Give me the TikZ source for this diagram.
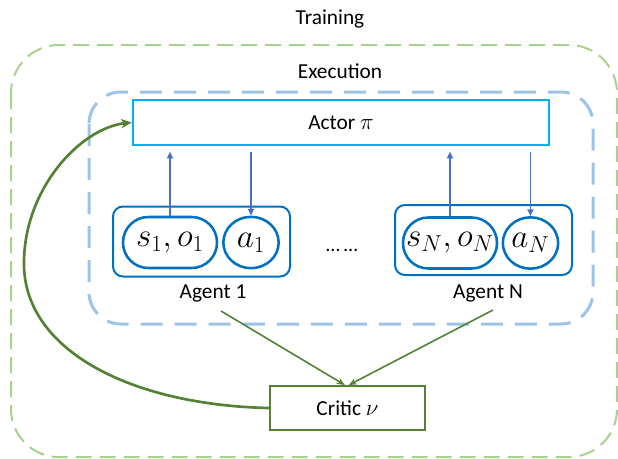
\documentclass[tikz,border=0pt]{standalone}
\usepackage{fontspec}
\setmainfont{Carlito}
\usetikzlibrary{arrows.meta,calc,shapes.geometric}
\definecolor{trainGreen}{HTML}{A9D18E}
\definecolor{execBlue}{HTML}{9DC3E6}
\definecolor{actorCyan}{HTML}{00B0F0}
\definecolor{agentBlue}{HTML}{0070C0}
\definecolor{arrowBlue}{HTML}{4472C4}
\definecolor{criticGreen}{HTML}{548235}
\tikzset{
  lbl/.style={font=\fontsize{16}{19}\selectfont, inner sep=0pt},
  trainbox/.style={draw=trainGreen, line width=1.5pt, rounded corners=36pt,
    dash pattern=on 12pt off 6pt},
  execbox/.style={draw=execBlue, line width=2.25pt, rounded corners=24pt,
    dash pattern=on 16.5pt off 9pt},
  actorbox/.style={draw=actorCyan, line width=1.9pt, fill=white,
    minimum width=312pt, minimum height=33.75pt, inner sep=0pt,
    font=\fontsize{16}{19}\selectfont},
  agentbox/.style={draw=agentBlue, line width=1.5pt, rounded corners=7.5pt,
    minimum width=132.75pt, minimum height=52.5pt, inner sep=0pt},
  statebox/.style={draw=agentBlue, line width=1.9pt, rounded corners=19pt,
    minimum width=70.5pt, minimum height=38.25pt, inner sep=0pt,
    font=\fontsize{23}{27}\selectfont},
  actbox/.style={draw=agentBlue, line width=1.9pt, ellipse,
    minimum width=41.5pt, minimum height=38.5pt, inner sep=0pt,
    font=\fontsize{23}{27}\selectfont},
  criticbox/.style={draw=criticGreen, line width=1.5pt, fill=white,
    minimum width=116.25pt, minimum height=33pt, inner sep=0pt,
    font=\fontsize{16}{19}\selectfont},
  bluearrow/.style={draw=arrowBlue, line width=1.2pt,
    -{Triangle[length=5pt,width=4.5pt]}},
  greenarrow/.style={draw=criticGreen, line width=1.2pt,
    -{Stealth[length=6pt,width=5pt]}},
  critcurve/.style={draw=criticGreen, line width=2pt,
    -{Stealth[length=8pt,width=7pt]}},
}
\begin{document}
\begin{tikzpicture}[x=0.75pt,y=-0.75pt]
\useasboundingbox (0,0) rectangle (618,458);

% dashed regions: training (outer) and execution (inner)
\draw[trainbox] (11,45) rectangle (617,457);
\draw[execbox] (89,92) rectangle (593,324);
\node[lbl] (train) at (330,19) {Training};
\node[lbl] (exec) at (340,71) {Execution};

% shared actor
\node[actorbox] (actor) at (341,122.5) {Actor $\pi$};

% agent 1
\node[agentbox] (ag1) at (201.5,241.5) {};
\node[statebox] (so1) at (170,242.5) {$s_1,o_1$};
\node[actbox] (a1) at (251,242.5) {$a_1$};
\node[lbl] (lab1) at (213,293) {Agent 1};

% agent N
\node[agentbox] (agN) at (483.5,240) {};
\node[statebox] (soN) at (450,243) {$s_N,o_N$};
\node[actbox] (aN) at (530.5,243) {$a_N$};
\node[lbl] (labN) at (488,293) {Agent N};

\node[lbl, font=\fontsize{15}{18}\selectfont] (dots) at (342,250) {…\hspace{3pt}…};

% critic
\node[criticbox] (critic) at (347.5,408) {Critic $\nu$};

% observations up to the actor, actions down to the agents
\draw[bluearrow, shorten >=4pt] (so1.north) -- (so1.north |- actor.south);
\draw[bluearrow, shorten <=4pt] (a1.north |- actor.south) -- (a1.north);
\draw[bluearrow, shorten >=4pt] (soN.north) -- (soN.north |- actor.south);
\draw[bluearrow, shorten <=4pt] (aN.north |- actor.south) -- (aN.north);

% agents feed the critic
\coordinate (from1) at (221,311);
\coordinate (fromN) at (493,310);
\draw[greenarrow] (from1) -- ([xshift=-2pt]critic.north);
\draw[greenarrow] (fromN) -- ([xshift=1pt]critic.north);

% critic feedback to the actor
\draw[critcurve] (critic.west) .. controls (130,405) and (25,350) .. (24,265)
  .. controls (23,190) and (80,128) .. (actor.west);
\end{tikzpicture}
\end{document}
